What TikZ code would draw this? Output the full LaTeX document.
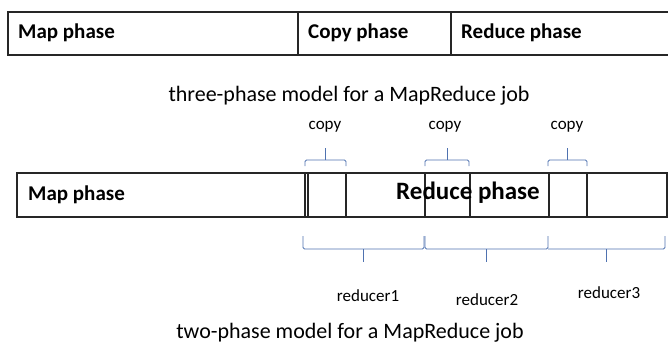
\documentclass[tikz,border=0pt]{standalone}
\usepackage{fontspec}
\setmainfont{Carlito}
\usetikzlibrary{positioning}
\definecolor{bracecol}{RGB}{79,114,176}
\tikzset{
    phasebox/.style={draw=black!85, line width=1.2pt},
    phaselabel/.style={font=\bfseries\fontsize{21}{25}\selectfont, anchor=west, inner sep=0pt},
    biglabel/.style={font=\bfseries\fontsize{25}{30}\selectfont, inner sep=0pt},
    caption/.style={font=\fontsize{22}{26}\selectfont},
    smalllabel/.style={font=\fontsize{17}{20}\selectfont, inner sep=0pt},
    bracket/.style={draw=bracecol, line width=0.9pt, rounded corners=1.5pt}
}

\begin{document}
\begin{tikzpicture}[x=1pt, y=-1pt]
\useasboundingbox (0,0) rectangle (668,350);

% three-phase model
\draw[phasebox] (668,12) -- (8,12) -- (8,55) -- (668,55);
\draw[phasebox, line width=2pt] (8,55) -- (668,55);
\draw[phasebox] (298,12) -- (298,55) (451,12) -- (451,55);
\node[phaselabel] (map1) at (18,33) {Map phase};
\node[phaselabel] (copy1) at (308,33) {Copy phase};
\node[phaselabel] (reduce1) at (461,33) {Reduce phase};
\node[caption] (cap1) at (349,96) {three-phase model for a MapReduce job};

% two-phase model
\draw[phasebox] (17,173) rectangle (667,217);
\draw[phasebox, line width=2pt] (17,217) -- (667,217) (17,173) -- (17,217) (667,173) -- (667,217);
\draw[phasebox] (305,173) -- (305,217) (308,173) -- (308,217)
    (346,173) -- (346,217) (425,173) -- (425,217) (470,173) -- (470,217)
    (549,173) -- (549,217) (587,173) -- (587,217);
\node[phaselabel] (map2) at (28,195) {Map phase};
\node[biglabel] (reduce2) at (468,193) {Reduce phase};

% copy brackets
\draw[bracket] (305,166) -- (305,160) -- (346,160) -- (346,166);
\draw[bracket] (325.5,160) -- (325.5,148);
\draw[bracket] (425,166) -- (425,160) -- (469,160) -- (469,166);
\draw[bracket] (447,160) -- (447,148);
\draw[bracket] (548,166) -- (548,160) -- (587,160) -- (587,166);
\draw[bracket] (567.5,160) -- (567.5,148);
\node[smalllabel] (copya) at (325,127) {copy};
\node[smalllabel] (copyb) at (445,127) {copy};
\node[smalllabel] (copyc) at (567,127) {copy};

% reducer brackets
\draw[bracket] (303,236) -- (303,249) -- (424,249) -- (424,236);
\draw[bracket] (363.5,249) -- (363.5,262);
\draw[bracket] (425,236) -- (425,249) -- (548,249) -- (548,236);
\draw[bracket] (486.5,249) -- (486.5,262);
\draw[bracket] (548,249) -- (665,249) -- (665,236);
\draw[bracket] (606.5,249) -- (606.5,262);
\node[smalllabel] (red1) at (368,296) {reducer1};
\node[smalllabel] (red2) at (487,300) {reducer2};
\node[smalllabel] (red3) at (609,293) {reducer3};
\node[caption] (cap2) at (350,333) {two-phase model for a MapReduce job};
\end{tikzpicture}
\end{document}
